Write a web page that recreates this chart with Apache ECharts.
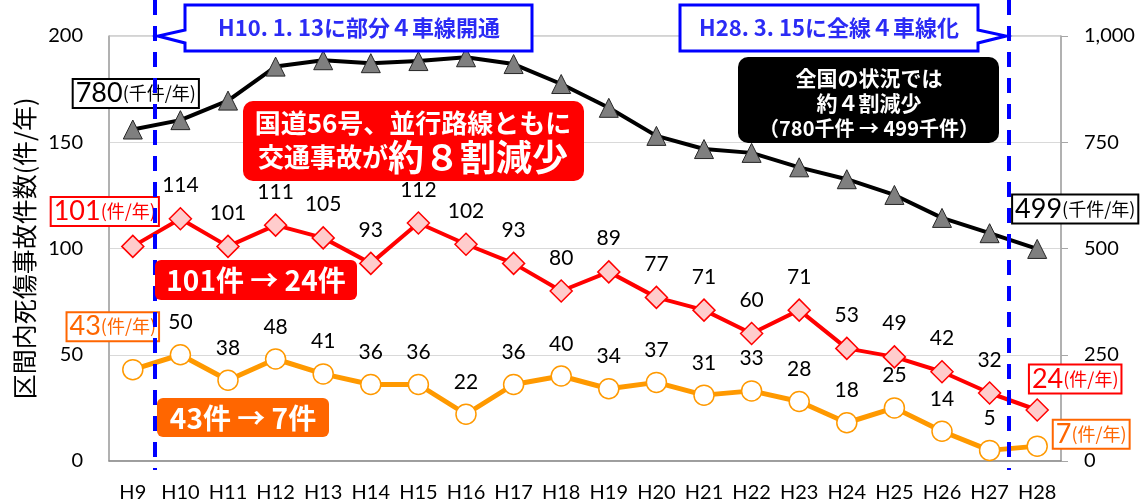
<!DOCTYPE html>
<html>
<head>
<meta charset="utf-8">
<script src="https://cdn.jsdelivr.net/npm/echarts/dist/echarts.min.js"></script>
<style>
html,body{margin:0;padding:0;background:#fff;}
#chart{width:1145px;height:501px;}
</style>
</head>
<body>
<div id="chart"></div>
<script>
var categories = ['H9','H10','H11','H12','H13','H14','H15','H16','H17','H18','H19','H20','H21','H22','H23','H24','H25','H26','H27','H28'];
var nationalValues = [780,802,848,928,943,936,941,950,934,887,831,765,734,725,691,663,626,572,536,499];
var routeValues = [101,114,101,111,105,93,112,102,93,80,89,77,71,60,71,53,49,42,32,24];
var serious = [43,50,38,48,41,36,36,22,36,40,34,37,31,33,28,18,25,14,5,7];
var leftTicks = [0,50,100,150,200];
var rightTicks = [0,250,500,750,1000];

var NUM = 'Lato, "Noto Sans CJK JP", sans-serif';
var JP = '"Noto Sans CJK JP", "Noto Sans", sans-serif';

function endLabel(val, unit, color, offset) {
  return {
    show: true,
    position: 'inside',
    offset: offset,
    formatter: '{a|' + val + '}{b|' + unit + '}',
    backgroundColor: '#fff',
    borderColor: color,
    borderWidth: 2,
    padding: [0, 2, 0, 2],
    rich: {
      a: {fontFamily: NUM, fontSize: 27, color: color, lineHeight: 27},
      b: {fontFamily: JP, fontSize: 18, color: color, lineHeight: 27, verticalAlign: 'middle'}
    }
  };
}

function buildData(values, firstLabel, lastLabel, showValues) {
  return values.map(function (v, i) {
    var item = {value: v};
    if (i === 0) item.label = firstLabel;
    else if (i === values.length - 1) item.label = lastLabel;
    else if (!showValues) item.label = {show: false};
    return item;
  });
}

var chart = echarts.init(document.getElementById('chart'));

var valueLabel = {
  show: true,
  position: 'top',
  distance: 11,
  fontFamily: NUM,
  fontSize: 21,
  color: '#000'
};

var option = {
  animation: false,
  grid: {left: 109, right: 84, top: 36, bottom: 40, show: true, borderColor: '#A6A6A6', borderWidth: 1,
    containLabel: false, outerBoundsMode: 'none'},
  xAxis: {
    type: 'category',
    data: categories,
    boundaryGap: true,
    axisLine: {show: true, lineStyle: {color: '#8C8C8C', width: 1.5}},
    axisTick: {show: false},
    axisLabel: {fontFamily: NUM, fontSize: 20, color: '#000', margin: 22, interval: 0}
  },
  yAxis: [{
    type: 'value', min: 0, max: 200, interval: 50,
    name: '区間内死傷事故件数(件/年)',
    nameLocation: 'middle', nameRotate: 90, nameGap: 72,
    nameTextStyle: {fontFamily: JP, fontSize: 25, color: '#000'},
    axisLine: {show: true, lineStyle: {color: '#A6A6A6', width: 1.5}},
    axisTick: {show: false},
    axisLabel: {fontFamily: NUM, fontSize: 20, color: '#000', margin: 26,
      formatter: function (v) { return leftTicks.indexOf(v) >= 0 ? String(v) : ''; }},
    splitLine: {show: true, lineStyle: {color: '#D9D9D9', width: 1}}
  }, {
    type: 'value', min: 0, max: 1000, interval: 250, position: 'right',
    axisLine: {show: true, lineStyle: {color: '#A6A6A6', width: 1.5}},
    axisTick: {show: true, inside: false, length: 7, lineStyle: {color: '#A6A6A6'}},
    axisLabel: {fontFamily: NUM, fontSize: 20, color: '#000', margin: 23,
      formatter: function (v) { return rightTicks.indexOf(v) >= 0 ? v.toLocaleString('en-US') : ''; }},
    splitLine: {show: false}
  }],
  series: [{
    name: '全国',
    type: 'line',
    yAxisIndex: 1,
    data: buildData(nationalValues,
      endLabel(780, '(千件/年)', '#000', [3, -36]),
      endLabel(499, '(千件/年)', '#000', [38, -40]), false),
    symbol: 'triangle', symbolSize: 19,
    lineStyle: {color: '#000', width: 4},
    itemStyle: {color: '#7F7F7F', borderColor: '#262626', borderWidth: 1},
    label: {show: false},
    z: 3
  }, {
    name: '国道56号',
    type: 'line',
    data: buildData(routeValues,
      endLabel(101, '(件/年)', '#FF0000', [-28, -35]),
      endLabel(24, '(件/年)', '#FF0000', [38, -31]), true),
    symbol: 'diamond', symbolSize: 22,
    lineStyle: {color: '#FF0000', width: 4},
    itemStyle: {color: '#FFCCCC', borderColor: '#FF0000', borderWidth: 1.5},
    label: valueLabel,
    z: 4
  }, {
    name: '重傷',
    type: 'line',
    data: buildData(serious,
      endLabel(43, '(件/年)', '#FF6600', [-20, -43]),
      endLabel(7, '(件/年)', '#FF6600', [54, -12]), true),
    symbol: 'circle', symbolSize: 20,
    lineStyle: {color: '#FF9900', width: 5},
    itemStyle: {color: '#FFFFFF', borderColor: '#FF9900', borderWidth: 1.5},
    label: valueLabel,
    z: 4
  }],
  graphic: [
    {type: 'line', z: 50, shape: {x1: 155, y1: 0, x2: 155, y2: 470},
      style: {stroke: '#0000FF', lineWidth: 4, lineDash: [15, 11]}},
    {type: 'line', z: 50, shape: {x1: 1009, y1: 0, x2: 1009, y2: 470},
      style: {stroke: '#0000FF', lineWidth: 4, lineDash: [15, 11]}},
    {type: 'polygon', z: 60, shape: {points: [[185, 5], [532, 5], [532, 51], [185, 51], [185, 43], [158, 36], [185, 30]]},
      style: {fill: '#fff', stroke: '#0000FF', lineWidth: 3}},
    {type: 'text', z: 61, x: 359, y: 28, style: {text: 'H10. 1. 13に部分４車線開通', fill: '#2B2BF5',
      font: 'bold 22px "Noto Sans CJK JP"', textAlign: 'center', textVerticalAlign: 'middle'}},
    {type: 'polygon', z: 60, shape: {points: [[680, 5], [978, 5], [978, 30], [1006, 36], [978, 43], [978, 51], [680, 51]]},
      style: {fill: '#fff', stroke: '#0000FF', lineWidth: 3}},
    {type: 'text', z: 61, x: 829, y: 28, style: {text: 'H28. 3. 15に全線４車線化', fill: '#2B2BF5',
      font: 'bold 22px "Noto Sans CJK JP"', textAlign: 'center', textVerticalAlign: 'middle'}},
    {type: 'rect', z: 60, shape: {x: 738, y: 57, width: 261, height: 86, r: 10}, style: {fill: '#000'}},
    {type: 'text', z: 61, x: 869, y: 78, style: {text: '全国の状況では', fill: '#fff',
      font: 'bold 21px "Noto Sans CJK JP"', textAlign: 'center', textVerticalAlign: 'middle'}},
    {type: 'text', z: 61, x: 869, y: 103, style: {text: '約４割減少', fill: '#fff',
      font: 'bold 21px "Noto Sans CJK JP"', textAlign: 'center', textVerticalAlign: 'middle'}},
    {type: 'text', z: 61, x: 869, y: 128, style: {text: '（780千件 → 499千件）', fill: '#fff',
      font: 'bold 20px "Noto Sans CJK JP"', textAlign: 'center', textVerticalAlign: 'middle'}},
    {type: 'rect', z: 60, shape: {x: 243, y: 101, width: 341, height: 80, r: 10}, style: {fill: '#FF0000'}},
    {type: 'text', z: 61, x: 413, y: 123, style: {text: '国道56号、並行路線ともに', fill: '#fff',
      font: 'bold 26px "Noto Sans CJK JP"', textAlign: 'center', textVerticalAlign: 'middle'}},
    {type: 'text', z: 61, x: 413, y: 157, style: {text: '{s|交通事故が}{l|約８割減少}', fill: '#fff',
      textAlign: 'center', textVerticalAlign: 'middle',
      rich: {s: {fontFamily: JP, fontWeight: 'bold', fontSize: 26, fill: '#fff', color: '#fff'},
             l: {fontFamily: JP, fontWeight: 'bold', fontSize: 36, fill: '#fff', color: '#fff'}}}},
    {type: 'rect', z: 60, shape: {x: 155, y: 260, width: 202, height: 40, r: 6}, style: {fill: '#FF0000'}},
    {type: 'text', z: 61, x: 256, y: 280, style: {text: '101件 → 24件', fill: '#fff',
      font: 'bold 28px "Noto Sans CJK JP"', textAlign: 'center', textVerticalAlign: 'middle'}},
    {type: 'rect', z: 60, shape: {x: 157, y: 398, width: 172, height: 39, r: 6}, style: {fill: '#FF6600'}},
    {type: 'text', z: 61, x: 243, y: 418, style: {text: '43件 → 7件', fill: '#fff',
      font: 'bold 28px "Noto Sans CJK JP"', textAlign: 'center', textVerticalAlign: 'middle'}}
  ]
};
chart.setOption(option);
</script>
</body>
</html>
